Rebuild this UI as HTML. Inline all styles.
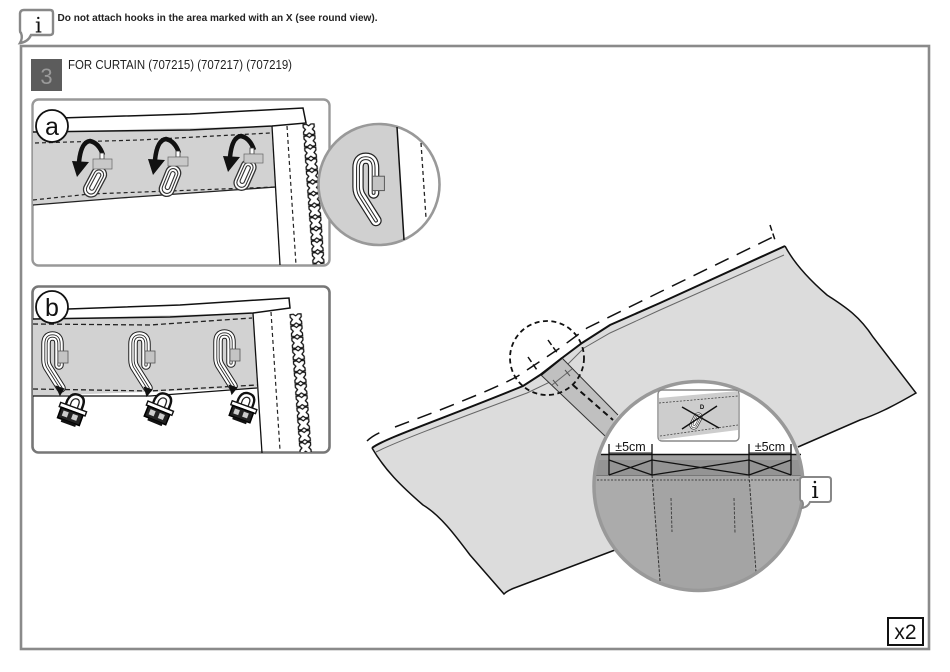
<!DOCTYPE html>
<html>
<head>
<meta charset="utf-8">
<style>
html,body{margin:0;padding:0;background:#fff;width:950px;height:672px;overflow:hidden}
svg{display:block}
text{font-family:"Liberation Sans",sans-serif}
</style>
</head>
<body>
<svg width="950" height="672" viewBox="0 0 950 672" xmlns="http://www.w3.org/2000/svg">
<defs>
  <pattern id="zip" patternUnits="userSpaceOnUse" width="13" height="11.700">
    <path d="M1,.8 L4,.5 L6.500,2.300 L9,.5 L12,.8 L12,3.500 L10,5.800 L12,8.200 L12,10.900 L9,11.200 L6.500,9.400 L4,11.200 L1,10.900 L1,8.200 L3,5.800 L1,3.500 Z" fill="#fff" stroke="#111" stroke-width="1.300"/>
  </pattern>
  <g id="hookB">
    <path d="M13,30 L13,9 Q13,1 6.500,1 Q0,1 0,9 L0,25 Q0,30 3,34 L15,53" fill="none" stroke="#222" stroke-width="9.500" stroke-linecap="round" stroke-linejoin="round"/>
    <path d="M13,30 L13,9 Q13,1 6.500,1 Q0,1 0,9 L0,25 Q0,30 3,34 L15,53" fill="none" stroke="#fff" stroke-width="7.500" stroke-linecap="round"/>
    <path d="M13,30 L13,9 Q13,1 6.500,1 Q0,1 0,9 L0,25 Q0,30 3,34 L15,53" fill="none" stroke="#222" stroke-width="3.200" stroke-linecap="round"/>
    <path d="M13,30 L13,9 Q13,1 6.500,1 Q0,1 0,9 L0,25 Q0,30 3,34 L15,53" fill="none" stroke="#fff" stroke-width="1.500" stroke-linecap="round"/>
    <rect x="12" y="16" width="10" height="12" fill="#c4c4c4" stroke="#555" stroke-width=".8"/>
  </g>
  <g id="clip">
    <rect x="-7.500" y="-16" width="15" height="32" rx="7.500" fill="#fff" stroke="#333" stroke-width="1.300"/>
    <rect x="-4.800" y="-13" width="9.600" height="26" rx="4.800" fill="#fff" stroke="#333" stroke-width="1.100"/>
    <rect x="-2.200" y="-10" width="4.400" height="19" rx="2.200" fill="#fff" stroke="#333" stroke-width="1.100"/>
  </g>
  <g id="arrow">
    <path d="M103,155 Q99,143 90,141 Q81,142 79,162" fill="none" stroke="#111" stroke-width="4.500"/>
    <path d="M72,161 L89,162 L77,177 Z" fill="#111"/>
  </g>
  <g id="lock">
    <path d="M-7,-2 L-7,-7 Q-6,-15 1,-15 Q8,-15 8,-7 L8,-2" fill="#fff" stroke="#111" stroke-width="2.200"/>
    <path d="M-3,-3 L-3,-7 Q-2,-11 1,-11 Q4,-11 4,-7 L4,-3" fill="#fff" stroke="#222" stroke-width="1.200"/>
    <rect x="-12" y="-3" width="25" height="4" fill="#fff" stroke="#111" stroke-width="1.300"/>
    <rect x="-10" y="1" width="21" height="10" fill="#222" stroke="#000" stroke-width="1.400"/>
    <rect x="-7" y="3" width="5" height="5" fill="#ccc"/>
    <rect x="2" y="3" width="5" height="5" fill="#ccc"/>
    <rect x="-6" y="11" width="14" height="2.500" fill="#111"/>
  </g>
</defs>

<!-- top note -->
<path d="M24,10 H50 Q53,10 53,13 V32 Q53,35 50,35 H31 Q28,42 20,43 Q23,38 21,33 Q20,33 20,30 V14 Q20,10 24,10 Z" fill="#fff" stroke="#888" stroke-width="2.400"/>
<text x="38.500" y="32.500" font-size="21.500" text-anchor="middle" style="font-family:'DejaVu Serif','Liberation Serif',serif" fill="#111">i</text>
<text x="57.500" y="21" font-size="10.500" font-weight="bold" textLength="320" lengthAdjust="spacingAndGlyphs" fill="#222">Do not attach hooks in the area marked with an X (see round view).</text>

<!-- frame -->
<rect x="21" y="46" width="908" height="603" fill="#fff" stroke="#8a8a8a" stroke-width="2.600"/>

<!-- step heading -->
<rect x="31" y="59" width="31" height="32" fill="#5c5c5c"/>
<text x="46.500" y="84" font-size="22" text-anchor="middle" fill="#9a9a9a">3</text>
<text x="68" y="69" font-size="13" textLength="224" lengthAdjust="spacingAndGlyphs" fill="#222">FOR CURTAIN (707215) (707217) (707219)</text>

<!-- panel a -->
<clipPath id="pa"><rect x="33" y="100" width="296" height="165" rx="5"/></clipPath>
<rect x="32.500" y="99.500" width="297" height="166" rx="6" fill="#fff" stroke="#999" stroke-width="2.400"/>
<path d="M33,132 L272,126 L276,187 L33,205 Z" fill="#d2d2d2"/>
<path d="M33,132 L190,130 L272,126 L306,123 L303,108 L190,114 L60,118" fill="none" stroke="#111" stroke-width="1.500"/>
<path d="M33,205 L120,198 L276,187" fill="none" stroke="#222" stroke-width="1.300"/>
<path d="M35,143 L140,140 L270,133" fill="none" stroke="#222" stroke-width="1.200" stroke-dasharray="4 3"/>
<path d="M33,200 L90,194 L275,187" fill="none" stroke="#222" stroke-width="1.200" stroke-dasharray="4 3"/>
<path d="M272,126 L280,265" stroke="#111" stroke-width="1.300"/>
<path d="M287,126 L296,265" stroke="#222" stroke-width="1.200" stroke-dasharray="4 3"/>
<g clip-path="url(#pa)"><rect width="13" height="141" fill="url(#zip)" transform="translate(302,124) rotate(-4.100)"/></g>
<circle cx="52" cy="126" r="16" fill="#fff" stroke="#111" stroke-width="1.800"/>
<text x="52" y="135" font-size="25" text-anchor="middle" fill="#111">a</text>

<use href="#arrow"/>
<use href="#arrow" x="76" y="-2"/>
<use href="#arrow" x="151" y="-5"/>
<use href="#clip" transform="translate(95,182) rotate(28)"/>
<use href="#clip" transform="translate(170,181) rotate(22)"/>
<use href="#clip" transform="translate(245,175) rotate(24)"/>
<rect x="100" y="153" width="4" height="6" fill="#fff" stroke="#333" stroke-width=".8"/>
<rect x="176" y="151" width="4" height="6" fill="#fff" stroke="#333" stroke-width=".8"/>
<rect x="250" y="148" width="4" height="6" fill="#fff" stroke="#333" stroke-width=".8"/>
<rect x="93" y="159" width="19" height="10" fill="#c8c8c8" stroke="#666" stroke-width=".7"/>
<rect x="168" y="157" width="20" height="9" fill="#c8c8c8" stroke="#666" stroke-width=".7"/>
<rect x="244" y="154" width="19" height="9" fill="#c8c8c8" stroke="#666" stroke-width=".7"/>

<!-- small round view -->
<circle cx="379" cy="184.500" r="60.500" fill="#fff"/>
<path d="M397,127 L404,240 Q390,245 379,245 A60.500,60.500 0 0 1 379,124 Q388,124 397,127 Z" fill="#d0d0d0"/>
<circle cx="379" cy="184.500" r="60.500" fill="none" stroke="#999" stroke-width="2.600"/>
<path d="M397,127 L404,240" stroke="#111" stroke-width="1.500"/>
<path d="M421,143 L426,218" stroke="#222" stroke-width="1.300" stroke-dasharray="4 3"/>
<use href="#hookB" transform="translate(358,157) scale(1.200)"/>

<!-- panel b -->
<clipPath id="pb"><rect x="33" y="287" width="296" height="165" rx="5"/></clipPath>
<rect x="32.500" y="286.500" width="297" height="166" rx="6" fill="#fff" stroke="#777" stroke-width="2.600"/>
<path d="M33,319 L253,313 L257,388 L33,396 Z" fill="#d2d2d2"/>
<path d="M33,319 L170,317 L253,313 L290,308 L289,298 L180,305 L68,309" fill="none" stroke="#111" stroke-width="1.500"/>
<path d="M33,396 L150,396 L257,388" fill="none" stroke="#111" stroke-width="1.300"/>
<path d="M33,324 L150,325 L252,318" fill="none" stroke="#222" stroke-width="1.300" stroke-dasharray="5 3"/>
<path d="M33,389 L150,391 L257,385" fill="none" stroke="#222" stroke-width="1.300" stroke-dasharray="5 3"/>
<path d="M253,313 L262,453" stroke="#111" stroke-width="1.300"/>
<path d="M271,312 L280,450" stroke="#222" stroke-width="1.200" stroke-dasharray="4 3"/>
<g clip-path="url(#pb)"><rect width="13" height="141" fill="url(#zip)" transform="translate(289,314) rotate(-4.200)"/></g>
<circle cx="52" cy="307" r="16" fill="#fff" stroke="#111" stroke-width="1.800"/>
<text x="52" y="316" font-size="25" text-anchor="middle" fill="#111">b</text>

<use href="#hookB" transform="translate(46,335)"/>
<use href="#hookB" transform="translate(133,335)"/>
<use href="#hookB" transform="translate(218,333)"/>
<path d="M57,387 L63,389 L60,394 Z M145,388 L151,390 L147,395 Z M230,386 L236,388 L232,393 Z" fill="#111" stroke="#111" stroke-width="2"/>
<use href="#lock" transform="translate(72,410) rotate(20) scale(1.100)"/>
<use href="#lock" transform="translate(159,409) rotate(22) scale(1.100)"/>
<use href="#lock" transform="translate(243,408) rotate(20) scale(1.050)"/>

<!-- curtain -->
<path d="M372,448 C385,438 440,420 523,386 L540,375 L562,358 L582,343 L610,325 L660,303 L785,246 C795,265 812,282 827,295 C842,305 858,314 873,337 L916,393 C890,408 875,415 860,420 L798,447 L615,550 L517,587 L504,594 L470,555 C455,535 440,515 423,505 C400,485 385,470 372,448 Z" fill="#dcdcdc"/>
<path d="M372,448 C385,438 440,420 523,386 L540,375 L562,358 L582,343 L610,325 L660,303 L785,246" fill="none" stroke="#111" stroke-width="2"/>
<path d="M785,246 C795,265 812,282 827,295 C842,305 858,314 873,337 L916,393 C890,408 875,415 860,420 L798,447" fill="none" stroke="#111" stroke-width="1.500"/>
<path d="M372,448 C385,470 400,485 423,505 C440,515 455,535 470,555 L504,594 Q508,590 517,587 L615,550" fill="none" stroke="#111" stroke-width="1.500"/>
<path d="M376,452 C400,440 460,418 527,393 L550,382 L584,348 L610,333 L660,310 L784,255" fill="none" stroke="#666" stroke-width="1"/>
<path d="M541,375 L562,358 L618,415 L605,436 Z" fill="#c0c0c0"/>
<path d="M541,375 L605,436 M562,358 L618,415" stroke="#333" stroke-width="1"/>
<path d="M541,375 L562,358" stroke="#111" stroke-width="2"/>
<path d="M552,385 L572,369" stroke="#666" stroke-width="1"/>
<path d="M573,385 L613,420" stroke="#111" stroke-width="2" stroke-dasharray="6 4"/>
<path d="M553,380 L558,386 M565,370 L570,376" stroke="#555"/>
<path d="M367,441 Q372,436 381,432 M395,427 L440,410 C470,398 500,386 518,376 L560,348 L587,328 L660,292 L775,236" fill="none" stroke="#111" stroke-width="1.500" stroke-dasharray="15 9"/>
<path d="M770,225 L775,240" stroke="#111" stroke-width="1.500" stroke-dasharray="6 3"/>
<path d="M528,357 L537,370 M548,340 L558,354" stroke="#111" stroke-width="1.500" stroke-dasharray="6 3"/>
<circle cx="547" cy="358" r="37" fill="none" stroke="#111" stroke-width="1.800" stroke-dasharray="5 3.500"/>

<!-- big round view -->
<circle cx="698.500" cy="486" r="104.500" fill="#fff"/>
<clipPath id="bc"><circle cx="698.500" cy="486" r="104.500"/></clipPath>
<g clip-path="url(#bc)">
  <rect x="590" y="454" width="220" height="145" fill="#ababab"/>
  <path d="M652,475 L749,475 L756,600 L661,600 Z" fill="#a4a4a4"/>
  <rect x="590" y="454" width="220" height="21" fill="#949494"/>
  <rect x="590" y="454" width="220" height="6" fill="#a0a0a0"/>
  <line x1="590" y1="480" x2="810" y2="480" stroke="#444" stroke-width="1" stroke-dasharray="2 1.500"/>
  <line x1="590" y1="475.500" x2="810" y2="475.500" stroke="#777" stroke-width="1"/>
  <path d="M652,475 L660,581 M749,475 L756,572" stroke="#333" stroke-width="1" stroke-dasharray="3 1.500"/>
  <path d="M671,498 L672,532 M734,498 L735,533" stroke="#444" stroke-width="1" stroke-dasharray="3 1.500"/>
</g>
<line x1="601" y1="454.500" x2="801" y2="454.500" stroke="#111" stroke-width="1.400"/>
<path d="M609,444 V475 M652,444 V475 M749,444 V475 M791,444 V475" stroke="#111" stroke-width="1.300"/>
<path d="M609,460 L652,475 M609,475 L652,460 M652,460 L749,475 M652,475 L749,460 M749,460 L791,475 M749,475 L791,460" stroke="#111" stroke-width="1.300"/>
<path d="M609,453 H652 M749,453 H791" stroke="#111" stroke-width="1"/>
<text x="630.500" y="451" font-size="12.500" text-anchor="middle" fill="#111">±5cm</text>
<text x="770" y="451" font-size="12.500" text-anchor="middle" fill="#111">±5cm</text>
<circle cx="698.500" cy="486" r="104.500" fill="none" stroke="#999" stroke-width="3.500"/>

<!-- inset -->
<rect x="658" y="390" width="81" height="51" rx="4" fill="#fff" stroke="#888" stroke-width="1.400"/>
<path d="M659,398 L738,391 L738,430 L659,440 Z" fill="#cdcdcd"/>
<path d="M659,403 L738,396 M660,436 L738,425" stroke="#444" stroke-width=".8" stroke-dasharray="2 1.500"/>
<use href="#clip" transform="translate(696,421) rotate(28) scale(.55)"/>
<path d="M682,407 L719,428 M717,406 L682,429" stroke="#111" stroke-width="1.400"/>
<text x="702" y="409" font-size="6" font-weight="bold" text-anchor="middle" fill="#111">D</text>

<!-- i bubble -->
<path d="M803,477 H828 Q831,477 831,480 V499 Q831,502 828,502 H810 Q808,507 802,508 Q804,504 802,501 Q800,501 800,498 V480 Q800,477 803,477 Z" fill="#fff" stroke="#888" stroke-width="2"/>
<text x="815" y="498" font-size="23" text-anchor="middle" style="font-family:'DejaVu Serif','Liberation Serif',serif" fill="#111">i</text>

<!-- x2 -->
<rect x="888" y="618" width="35" height="27" fill="#fff" stroke="#111" stroke-width="2"/>
<text x="905.500" y="639" font-size="21" text-anchor="middle" fill="#111">x2</text>
</svg>
</body>
</html>
